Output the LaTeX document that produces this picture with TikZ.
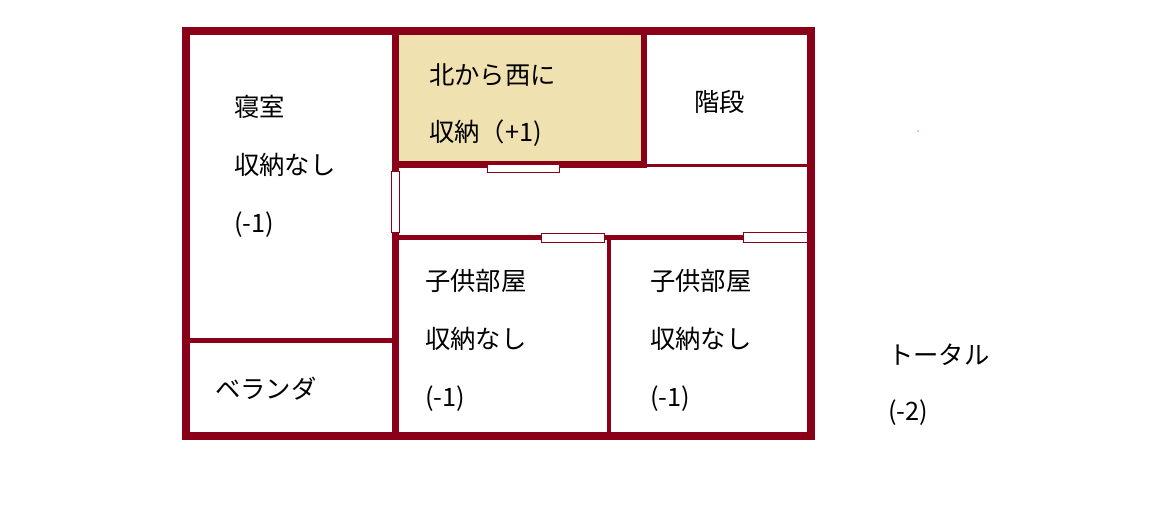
\documentclass[tikz,border=0pt]{standalone}
\usepackage{fontspec}
\newfontfamily\jp{Noto Sans CJK JP}
\definecolor{wall}{HTML}{8A0019}
\definecolor{closet}{HTML}{F0E2B0}
\tikzset{wallr/.style={fill=wall,draw=none},
 door/.style={fill=white,draw=wall,line width=0.6pt},
 lbl/.style={anchor=west,inner sep=0pt,font=\jp\fontsize{19pt}{19pt}\selectfont}}
\begin{document}
\begin{tikzpicture}[x=0.75pt,y=-0.75pt]
\useasboundingbox (0,0) rectangle (1155,525);
\fill[closet] (397,33) rectangle (644,165);
% outer walls
\fill[wallr] (182,27) rectangle (815,35);
\fill[wallr] (182,432) rectangle (815,440);
\fill[wallr] (182,27) rectangle (190,440);
\fill[wallr] (807,27) rectangle (815,440);
% inner walls
\fill[wallr] (392,27) rectangle (399,440);
\fill[wallr] (392,161) rectangle (646,168);
\fill[wallr] (641,27) rectangle (647,168);
\fill[wallr] (641,164) rectangle (815,167);
\fill[wallr] (392,235) rectangle (815,240);
\fill[wallr] (607,235) rectangle (611,440);
\fill[wallr] (182,338) rectangle (399,343);
% doors
\draw[door] (487,164) rectangle (559,172);
\draw[door] (391,171) rectangle (399,232);
\draw[door] (541,233) rectangle (604,242);
\draw[door] (743,232) rectangle (807,242);
% labels
\node[lbl] (a1) at (234,107) {寝室};
\node[lbl] (a2) at (234,165) {収納なし};
\node[lbl] (a3) at (234,225) {(-1)};
\node[lbl] (b1) at (429,75) {北から西に};
\node[lbl] (b2) at (429,133) {収納（+1)};
\node[lbl] (c1) at (694,102) {階段};
\node[lbl] (d1) at (425,281) {子供部屋};
\node[lbl] (d2) at (425,339) {収納なし};
\node[lbl] (d3) at (425,399) {(-1)};
\node[lbl] (e1) at (650,281) {子供部屋};
\node[lbl] (e2) at (650,339) {収納なし};
\node[lbl] (e3) at (650,399) {(-1)};
\node[lbl] (f1) at (215,389) {ベランダ};
\node[lbl] (g1) at (888,355) {トータル};
\node[lbl] (g2) at (888,413) {(-2)};
\fill[wall] (918,131) circle (0.7);
\end{tikzpicture}
\end{document}
